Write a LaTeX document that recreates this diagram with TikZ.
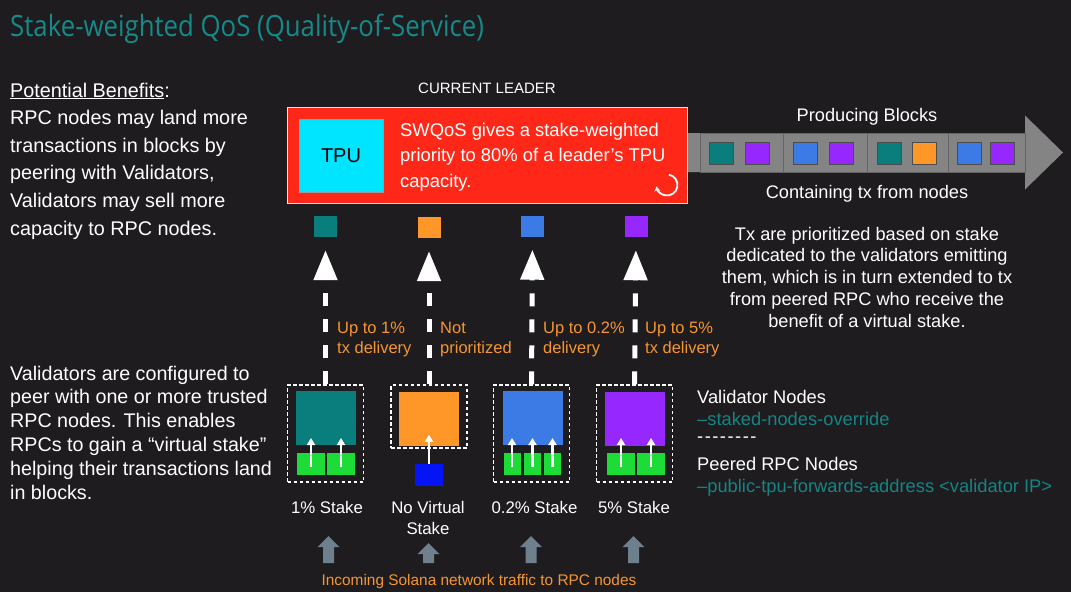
\documentclass[tikz,border=0pt]{standalone}
\usepackage{fontspec}
\setmainfont{Liberation Sans}
\newfontfamily\titlefont[FakeStretch=0.88]{Open Sans}
\usetikzlibrary{arrows.meta}
\definecolor{bg}{RGB}{30,28,31}
\definecolor{titleteal}{RGB}{20,138,138}
\definecolor{legteal}{RGB}{22,132,132}
\definecolor{leaderred}{RGB}{255,40,24}
\definecolor{tpucyan}{RGB}{0,229,255}
\definecolor{blockgray}{RGB}{132,132,132}
\definecolor{blockline}{RGB}{100,100,100}
\definecolor{txteal}{RGB}{10,125,125}
\definecolor{txpurple}{RGB}{150,40,255}
\definecolor{txblue}{RGB}{60,122,230}
\definecolor{txorange}{RGB}{255,150,40}
\definecolor{lbl}{RGB}{245,150,50}
\definecolor{rpcgreen}{RGB}{30,220,55}
\definecolor{rpcblue}{RGB}{5,20,245}
\definecolor{arrowgray}{RGB}{110,128,142}
\newcommand{\fsz}[2]{\fontsize{#1}{#2}\selectfont}
\begin{document}
\begin{tikzpicture}[x=1pt,y=-1pt,
  txt/.style={inner sep=0pt, text=white, align=left},
  tx/.style={draw=black!70, line width=0.6pt, minimum width=24pt, minimum height=22pt, inner sep=0pt},
  sq/.style={minimum width=23pt, minimum height=21pt, inner sep=0pt},
  blk/.style={draw=blockline, fill=blockgray, line width=1pt, minimum height=39pt, inner sep=0pt},
  dbox/.style={draw=white, dash pattern=on 3.5pt off 2.5pt, line width=1.1pt, minimum width=76pt, inner sep=0pt},
  rpc/.style={minimum width=60pt, minimum height=54pt, inner sep=0pt},
  grn/.style={fill=rpcgreen, minimum height=22pt, inner sep=0pt},
  dasharrow/.style={white, line width=5pt, dash pattern=on 13pt off 13pt, shorten >=13pt, -{Triangle[width=23pt,length=30pt]}},
  inarrow/.style={white, line width=2.8pt, -{Triangle[width=8pt,length=7pt]}},
  lab/.style={inner sep=0pt, text=lbl, align=left, font=\fsz{16.5}{20}},
  stk/.style={inner sep=0pt, text=white, align=center, font=\fsz{16.8}{21}, anchor=base},
  pics/uparrow/.style={code={\fill[arrowgray] (-5.5,0) -- (-5.5,-#1) -- (-11,-#1) -- (0,-#1-11) -- (11,-#1) -- (5.5,-#1) -- (5.5,0) -- cycle;}}
]
\useasboundingbox (0,0) rectangle (1071,592);
\fill[bg] (0,0) rectangle (1071,592);

% title
\node[inner sep=0pt, anchor=base west, text=titleteal, font=\titlefont\fsz{29.3}{32}] (title) at (10,36) {Stake-weighted QoS (Quality-of-Service)};

% left texts (anchor = baseline of the last line)
\node[txt, anchor=base west, font=\fsz{19.8}{27.6}] (benefits) at (10,235) {\underline{Potential Benefits}:\\RPC nodes may land more\\transactions in blocks by\\peering with Validators,\\Validators may sell more\\capacity to RPC nodes.};
\node[txt, anchor=base west, font=\fsz{19.7}{23.8}] (config) at (10,499) {Validators are configured to\\peer with one or more trusted\\RPC nodes. This enables\\RPCs to gain a “virtual stake”\\helping their transactions land\\in blocks.};

% producing blocks arrow
\fill[blockgray] (680,133) -- (1025,133) -- (1025,115.5) -- (1063,152.5) -- (1025,189.5) -- (1025,172) -- (680,172) -- cycle;
\node[blk, minimum width=83pt] (blk1) at (741.5,152.5) {};
\node[blk, minimum width=84pt] (blk2) at (825,152.5) {};
\node[blk, minimum width=81pt] (blk3) at (907.5,152.5) {};
\node[blk, minimum width=77pt] (blk4) at (986.5,152.5) {};
\node[tx, fill=txteal] (t1) at (721.5,153) {};
\node[tx, fill=txpurple] (t2) at (757.5,153) {};
\node[tx, fill=txblue] (t3) at (805.5,153) {};
\node[tx, fill=txpurple] (t4) at (841,153) {};
\node[tx, fill=txteal] (t5) at (889,153) {};
\node[tx, fill=txorange] (t6) at (924,153) {};
\node[tx, fill=txblue] (t7) at (969.5,153) {};
\node[tx, fill=txpurple] (t8) at (1002.5,153) {};
\node[txt, anchor=base, font=\fsz{18.2}{22}] (producing) at (867,121) {Producing Blocks};
\node[txt, anchor=base, font=\fsz{18.2}{22}] (containing) at (867,198) {Containing tx from nodes};

% leader
\node[txt, anchor=base, font=\fsz{15}{18}] (curlead) at (487,93) {CURRENT LEADER};
\node[fill=leaderred, draw=white!85!red, line width=1pt, minimum width=400pt, minimum height=96pt, inner sep=0pt] (leader) at (487,155) {};
\node[fill=tpucyan, draw=black!40, line width=0.6pt, minimum width=84pt, minimum height=73pt, inner sep=0pt, font=\fsz{20}{24}] (tpu) at (341,155.5) {TPU};
\node[txt, anchor=base west, font=\fsz{18.4}{25.6}] (swqos) at (400,187.2) {SWQoS gives a stake-weighted\\priority to 80\% of a leader’s TPU\\capacity.};
\coordinate (icon) at (667,185);
\draw[white, line width=1.8pt, -{Stealth[length=5pt,width=6pt]}] (icon) ++(-80:10.5) arc[start angle=-80, end angle=172, radius=10.5];

% right paragraph
\node[txt, align=center, anchor=base, font=\fsz{18.2}{21.8}] (para) at (867,327.2) {Tx are prioritized based on stake\\dedicated to the validators emitting\\them, which is in turn extended to tx\\from peered RPC who receive the\\benefit of a virtual stake.};

% delivered tx squares
\node[sq, fill=txteal] (s1) at (325.5,226.5) {};
\node[sq, fill=txorange] (s2) at (429,227.5) {};
\node[sq, fill=txblue] (s3) at (532.5,226) {};
\node[sq, fill=txpurple] (s4) at (636,226.5) {};

% dashed boxes
\node[dbox, minimum height=97pt] (b1) at (325.5,433.5) {};
\node[dbox, minimum height=63pt] (b2) at (429,416.5) {};
\node[dbox, minimum height=97pt] (b3) at (531.5,433.5) {};
\node[dbox, minimum height=97pt] (b4) at (634.5,433.5) {};

% validator / rpc boxes
\node[rpc, fill=txteal] (v1) at (326,418) {};
\node[rpc, fill=txorange] (v2) at (429,418.5) {};
\node[rpc, fill=txblue] (v3) at (533,418) {};
\node[rpc, fill=txpurple] (v4) at (635,418.5) {};
\node[grn, minimum width=28pt] (g11) at (311,464) {};
\node[grn, minimum width=28pt] (g12) at (341,464) {};
\node[fill=rpcblue, minimum width=28pt, minimum height=22pt, inner sep=0pt] (g21) at (429,475) {};
\node[grn, minimum width=17pt] (g31) at (512,464) {};
\node[grn, minimum width=17pt] (g32) at (532.5,464) {};
\node[grn, minimum width=17pt] (g33) at (552.5,464) {};
\node[grn, minimum width=28pt] (g41) at (621,464) {};
\node[grn, minimum width=28pt] (g42) at (651,464) {};
\draw[inarrow] ([yshift=-3pt]g11.center) -- ++(0,-29);
\draw[inarrow] ([yshift=-3pt]g12.center) -- ++(0,-29);
\draw[inarrow] (g21.north) -- ++(0,-29);
\draw[inarrow] ([yshift=-3pt]g31.center) -- ++(0,-29);
\draw[inarrow] ([yshift=-3pt]g32.center) -- ++(0,-29);
\draw[inarrow] ([yshift=-3pt]g33.center) -- ++(0,-29);
\draw[inarrow] ([yshift=-3pt]g41.center) -- ++(0,-29);
\draw[inarrow] ([yshift=-3pt]g42.center) -- ++(0,-29);

% dashed delivery arrows
\draw[dasharrow] (b1.north) -- (s1.south);
\draw[dasharrow] (b2.north) -- (s2.south);
\draw[dasharrow] (b3.north) -- (s3.south);
\draw[dasharrow] (b4.north) -- (s4.south);

% orange labels
\node[lab, anchor=base west] (l1) at (337,353) {Up to 1\%\\tx delivery};
\node[lab, anchor=base west] (l2) at (440,353) {Not\\prioritized};
\node[lab, anchor=base west] (l3) at (543,353) {Up to 0.2\%\\delivery};
\node[lab, anchor=base west] (l4) at (645,353) {Up to 5\%\\tx delivery};

% stake labels
\node[stk] (k1) at (327,513) {1\% Stake};
\node[stk] (k2) at (428,534) {No Virtual\\Stake};
\node[stk] (k3) at (534.5,513) {0.2\% Stake};
\node[stk] (k4) at (634,513) {5\% Stake};

% incoming arrows
\pic at (328.5,563) {uparrow=16};
\pic at (428.5,563) {uparrow=9};
\pic at (531,563) {uparrow=16};
\pic at (633.5,563) {uparrow=16};
\node[inner sep=0pt, anchor=base, text=lbl, font=\fsz{15.4}{18}] (incoming) at (479,585) {Incoming Solana network traffic to RPC nodes};

% legend
\node[txt, anchor=base west, font=\fsz{18.3}{22}] (valn) at (697,403) {Validator Nodes};
\node[inner sep=0pt, anchor=base west, text=legteal, font=\fsz{18.3}{22}] (valo) at (697,425) {–staked-nodes-override};
\node[txt, anchor=base west, font=\fsz{18.3}{22}] (sep) at (697,442) {-\kern1.5pt-\kern1.5pt-\kern1.5pt-\kern1.5pt-\kern1.5pt-\kern1.5pt-\kern1.5pt-};
\node[txt, anchor=base west, font=\fsz{18.3}{22}] (rpcn) at (697,470) {Peered RPC Nodes};
\node[inner sep=0pt, anchor=base west, text=legteal, font=\fsz{18.3}{22}] (rpco) at (697,492) {–public-tpu-forwards-address <validator IP>};
\end{tikzpicture}
\end{document}
